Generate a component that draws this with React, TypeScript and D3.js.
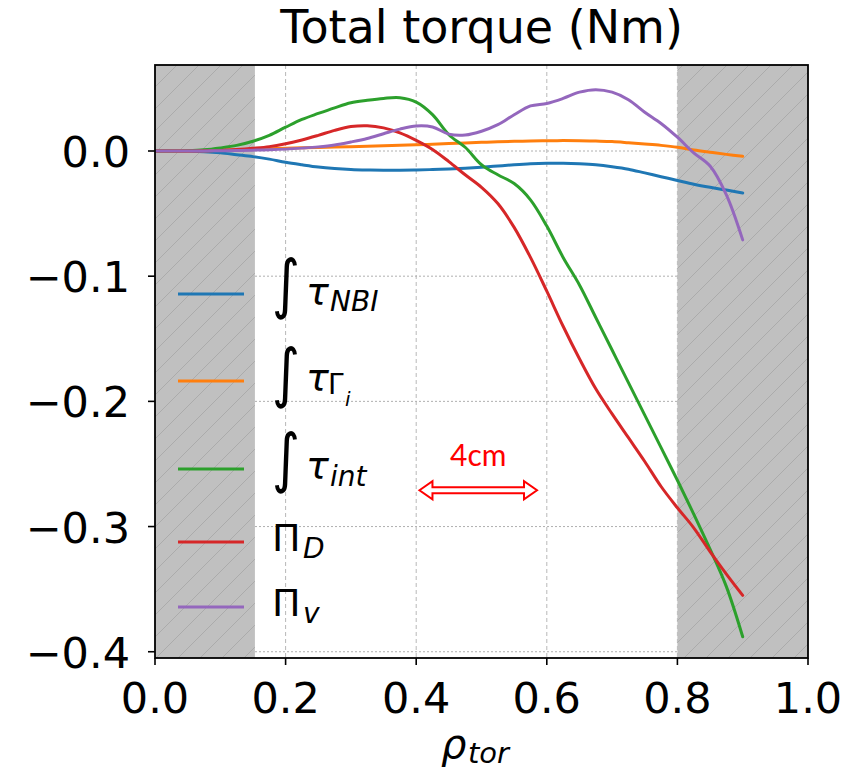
import React from 'react';
import * as d3 from 'd3';

// ---------- data ----------
const RHO = [0, 0.025, 0.05, 0.075, 0.1, 0.125, 0.15, 0.175, 0.2, 0.225, 0.25, 0.275, 0.3, 0.325, 0.35, 0.375, 0.4, 0.425, 0.45, 0.475, 0.5, 0.525, 0.55, 0.575, 0.6, 0.625, 0.65, 0.675, 0.7, 0.725, 0.75, 0.775, 0.8, 0.825, 0.85, 0.875, 0.9];

const TAU_NBI = [0, 0, -0.0002, -0.0006, -0.0015, -0.003, -0.0045, -0.0065, -0.009, -0.011, -0.0128, -0.014, -0.0148, -0.0152, -0.0154, -0.0154, -0.0152, -0.0148, -0.0144, -0.0138, -0.013, -0.012, -0.011, -0.0102, -0.0098, -0.0098, -0.0102, -0.011, -0.0125, -0.0145, -0.0175, -0.0205, -0.0235, -0.0265, -0.029, -0.0312, -0.0335];
const TAU_GAMMA = [0, 0, 0.0001, 0.0003, 0.0005, 0.0009, 0.0013, 0.0017, 0.0021, 0.0025, 0.0028, 0.0031, 0.0034, 0.0038, 0.0042, 0.0046, 0.005, 0.0054, 0.0059, 0.0064, 0.0069, 0.0073, 0.0077, 0.008, 0.0082, 0.0083, 0.0082, 0.0079, 0.0075, 0.0066, 0.0056, 0.0045, 0.003, 0.0008, -0.001, -0.0027, -0.0042];
const TAU_INT = [0, 0, 0.0003, 0.001, 0.0025, 0.0045, 0.0078, 0.0125, 0.019, 0.0252, 0.03, 0.0345, 0.0385, 0.0405, 0.042, 0.0425, 0.039, 0.029, 0.013, 0.003, -0.011, -0.019, -0.026, -0.039, -0.06, -0.085, -0.107, -0.133, -0.159, -0.185, -0.211, -0.237, -0.263, -0.29, -0.318, -0.348, -0.388];
const PI_D = [0, 0, 0, 0.0002, 0.0005, 0.0012, 0.0022, 0.0035, 0.0058, 0.0088, 0.0125, 0.0165, 0.0195, 0.0202, 0.0185, 0.0145, 0.0085, 0.0012, -0.0085, -0.019, -0.029, -0.042, -0.061, -0.085, -0.112, -0.14, -0.166, -0.19, -0.21, -0.229, -0.248, -0.268, -0.285, -0.301, -0.32, -0.338, -0.355];
const PI_V = [0, 0, 0, 0.0001, 0.0002, 0.0004, 0.0007, 0.001, 0.0015, 0.0023, 0.0033, 0.0048, 0.0072, 0.01, 0.0138, 0.0175, 0.02, 0.0192, 0.0135, 0.0128, 0.0158, 0.021, 0.029, 0.036, 0.038, 0.042, 0.047, 0.049, 0.047, 0.041, 0.031, 0.022, 0.011, -0.0015, -0.012, -0.035, -0.071];

const SERIES_KEYS = ['nbi', 'gamma', 'int', 'piD', 'piV'];
const SERIES_VALUES = [TAU_NBI, TAU_GAMMA, TAU_INT, PI_D, PI_V];
const SERIES_COLORS = ['#1f77b4', '#ff7f0e', '#2ca02c', '#d62728', '#9467bd'];

const X_TICKS = [0, 0.2, 0.4, 0.6, 0.8, 1.0];
const Y_TICKS = [0, -0.1, -0.2, -0.3, -0.4];
const X_DOMAIN = [0, 1];
const Y_DOMAIN = [-0.405, 0.0687];
const BANDS = [[0, 0.153], [0.8, 1.0]];
const TITLE = 'Total torque (Nm)';
const ANNOT_LABEL = '4cm';
const ANNOT_X = [0.405, 0.585];
const ANNOT_Y = -0.271;
const ANNOT_LABEL_Y = -0.2515;

// ---------- layout ----------
const W = 850;
const H = 773;
const PLOT = { left: 155, right: 808, top: 65, bottom: 658 };
const FONT = '"DejaVu Sans", sans-serif';
const LEGEND_ROWS = [294, 381, 469, 542, 607];
const LEG_MAIN = 38;
const LEG_SUB = 28;

function IntSign({ x, y }: { x: number; y: number }) {
  return (
    <text transform={`translate(${x},${y}) scale(1,1.2)`} fontSize={54} fontFamily={FONT} fill="#000">
      ∫
    </text>
  );
}

function LegendLabel({ k, y0 }: { k: string; y0: number }) {
  const lx = 272;
  if (k === 'nbi') {
    return (
      <g>
        <IntSign x={lx} y={y0 + 12} />
        <text x={lx + 34} y={y0 + 10} fontSize={LEG_MAIN} fontStyle="italic" fontFamily={FONT}>τ</text>
        <text x={lx + 58} y={y0 + 17} fontSize={LEG_SUB} fontStyle="italic" fontFamily={FONT}>NBI</text>
      </g>
    );
  }
  if (k === 'gamma') {
    return (
      <g>
        <IntSign x={lx} y={y0 + 14} />
        <text x={lx + 34} y={y0 + 9} fontSize={LEG_MAIN} fontStyle="italic" fontFamily={FONT}>τ</text>
        <text x={lx + 56} y={y0 + 13} fontSize={LEG_SUB} fontFamily={FONT}>Γ</text>
        <text x={lx + 73} y={y0 + 25} fontSize={20} fontStyle="italic" fontFamily={FONT}>i</text>
      </g>
    );
  }
  if (k === 'int') {
    return (
      <g>
        <IntSign x={lx} y={y0 + 11} />
        <text x={lx + 34} y={y0 + 9} fontSize={LEG_MAIN} fontStyle="italic" fontFamily={FONT}>τ</text>
        <text x={lx + 58} y={y0 + 17} fontSize={LEG_SUB} fontStyle="italic" fontFamily={FONT}>int</text>
      </g>
    );
  }
  const sub = k === 'piD' ? 'D' : 'v';
  return (
    <g>
      <text x={lx} y={y0 + 9} fontSize={LEG_MAIN} fontFamily={FONT}>Π</text>
      <text x={lx + 31} y={y0 + 16} fontSize={LEG_SUB} fontStyle="italic" fontFamily={FONT}>{sub}</text>
    </g>
  );
}

export default function App() {
  const x = d3.scaleLinear().domain(X_DOMAIN).range([PLOT.left, PLOT.right]);
  const y = d3.scaleLinear().domain(Y_DOMAIN).range([PLOT.bottom, PLOT.top]);
  const fmt = d3.format('.1f');

  const line = d3
    .line<number>()
    .x((_, i) => x(RHO[i]))
    .y((d) => y(d))
    .curve(d3.curveCatmullRom.alpha(0.5));

  // double-headed outline arrow in data coordinates
  const ax0 = x(ANNOT_X[0]);
  const ax1 = x(ANNOT_X[1]);
  const ay = y(ANNOT_Y);
  const head = 13;
  const hh = 9;
  const sh = 3;
  const arrowPath = [
    `M${ax0},${ay}`,
    `L${ax0 + head},${ay - hh}`,
    `L${ax0 + head},${ay - sh}`,
    `L${ax1 - head},${ay - sh}`,
    `L${ax1 - head},${ay - hh}`,
    `L${ax1},${ay}`,
    `L${ax1 - head},${ay + hh}`,
    `L${ax1 - head},${ay + sh}`,
    `L${ax0 + head},${ay + sh}`,
    `L${ax0 + head},${ay + hh}`,
    'Z',
  ].join(' ');

  return (
    <svg
      width={W}
      height={H}
      viewBox={`0 0 ${W} ${H}`}
      style={{ position: 'absolute', left: 0, top: 0, background: '#fff' }}
    >
      <defs>
        <pattern id="hatch" patternUnits="userSpaceOnUse" width={22} height={22}>
          <path
            d="M-5.5,5.5 L5.5,-5.5 M0,22 L22,0 M16.5,27.5 L27.5,16.5"
            stroke="#9c9c9c"
            strokeWidth={1}
            opacity={0.6}
          />
        </pattern>
        <clipPath id="plotclip">
          <rect x={PLOT.left} y={PLOT.top} width={PLOT.right - PLOT.left} height={PLOT.bottom - PLOT.top} />
        </clipPath>
      </defs>

      <rect x={0} y={0} width={W} height={H} fill="#fff" />

      {/* grid */}
      <g>
        {X_TICKS.filter((t) => t > 0 && t < 1).map((t) => (
          <line key={`gx${t}`} x1={x(t)} x2={x(t)} y1={PLOT.top} y2={PLOT.bottom} stroke="#b8b8b8" strokeWidth={1} strokeDasharray="4,3" />
        ))}
        {Y_TICKS.map((t) => (
          <line key={`gy${t}`} x1={PLOT.left} x2={PLOT.right} y1={y(t)} y2={y(t)} stroke="#b0b0b0" strokeWidth={1} strokeDasharray="2,2" />
        ))}
      </g>

      {/* shaded bands */}
      <g clipPath="url(#plotclip)">
        {BANDS.map((b, i) => (
          <g key={`band${i}`}>
            <rect x={x(b[0])} y={PLOT.top} width={x(b[1]) - x(b[0])} height={PLOT.bottom - PLOT.top} fill="#c0c0c0" />
            <rect x={x(b[0])} y={PLOT.top} width={x(b[1]) - x(b[0])} height={PLOT.bottom - PLOT.top} fill="url(#hatch)" />
          </g>
        ))}
      </g>

      {/* series */}
      <g clipPath="url(#plotclip)">
        {SERIES_VALUES.map((vals, i) => (
          <path
            key={SERIES_KEYS[i]}
            d={line(vals) || ''}
            fill="none"
            stroke={SERIES_COLORS[i]}
            strokeWidth={3}
            strokeLinejoin="round"
            strokeLinecap="round"
          />
        ))}
      </g>

      {/* legend */}
      <g>
        {SERIES_KEYS.map((k, i) => (
          <g key={`leg${k}`}>
            <line x1={178} x2={244} y1={LEGEND_ROWS[i]} y2={LEGEND_ROWS[i]} stroke={SERIES_COLORS[i]} strokeWidth={3} />
            <LegendLabel k={k} y0={LEGEND_ROWS[i]} />
          </g>
        ))}
      </g>

      {/* annotation */}
      <path d={arrowPath} fill="#fff" stroke="#ff0000" strokeWidth={2} strokeLinejoin="miter" />
      <text x={(ax0 + ax1) / 2} y={y(ANNOT_LABEL_Y)} textAnchor="middle" fontSize={30} fontFamily='Lato, "Open Sans", sans-serif' fill="#ff0000">
        {ANNOT_LABEL}
      </text>

      {/* spines */}
      <rect x={PLOT.left} y={PLOT.top} width={PLOT.right - PLOT.left} height={PLOT.bottom - PLOT.top} fill="none" stroke="#000" strokeWidth={1.8} />

      {/* x ticks */}
      <g>
        {X_TICKS.map((t) => (
          <g key={`xt${t}`}>
            <line x1={x(t)} x2={x(t)} y1={PLOT.bottom} y2={PLOT.bottom + 7} stroke="#000" strokeWidth={1.6} />
            <text x={x(t)} y={PLOT.bottom + 55} textAnchor="middle" fontSize={43} fontFamily={FONT}>
              {fmt(t)}
            </text>
          </g>
        ))}
      </g>

      {/* y ticks */}
      <g>
        {Y_TICKS.map((t) => (
          <g key={`yt${t}`}>
            <line x1={PLOT.left - 7} x2={PLOT.left} y1={y(t)} y2={y(t)} stroke="#000" strokeWidth={1.6} />
            <text x={PLOT.left - 25} y={y(t) + 16} textAnchor="end" fontSize={43} fontFamily={FONT}>
              {fmt(t)}
            </text>
          </g>
        ))}
      </g>

      {/* title */}
      <text x={(PLOT.left + PLOT.right) / 2} y={43} textAnchor="middle" fontSize={46} fontFamily={FONT}>
        {TITLE}
      </text>

      {/* x label */}
      <g>
        <text x={441} y={758} fontSize={40} fontStyle="italic" fontFamily={FONT}>ρ</text>
        <text x={468} y={763} fontSize={29} fontStyle="italic" fontFamily={FONT}>tor</text>
      </g>
    </svg>
  );
}
